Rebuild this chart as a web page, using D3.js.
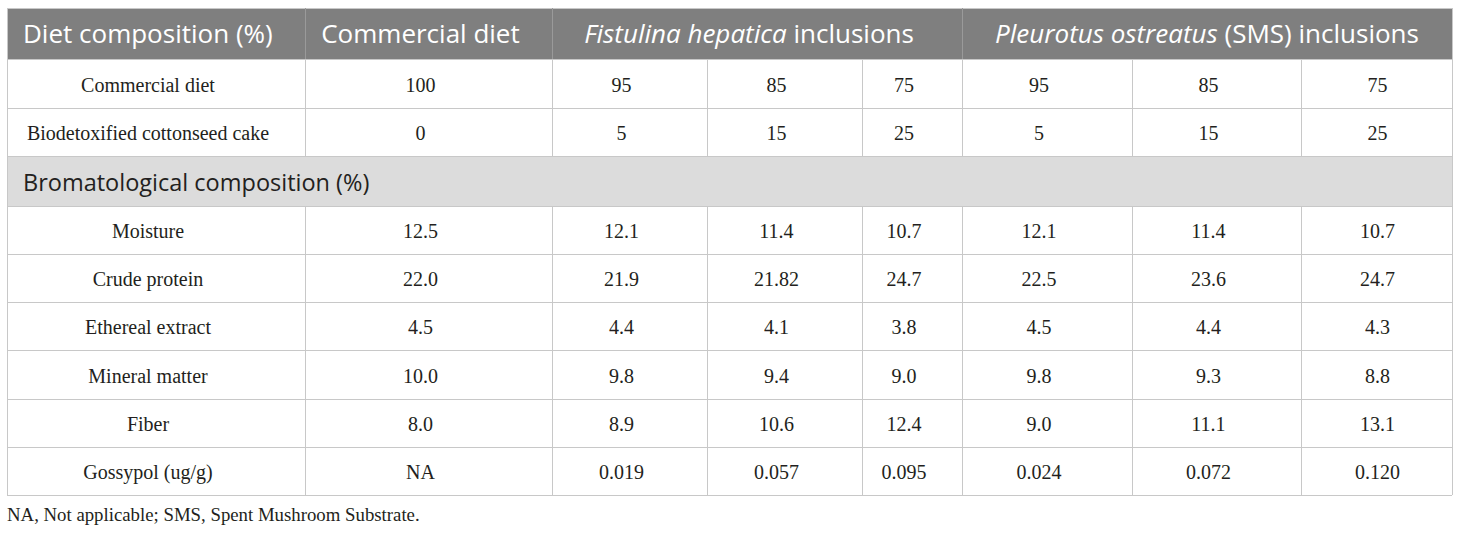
<!DOCTYPE html>
<html><head><meta charset="utf-8">
<script src="https://cdn.jsdelivr.net/npm/d3@7/dist/d3.min.js"></script>
<style>body{margin:0;background:#fff}svg{display:block}</style>
</head><body>
<script>
// ---- data ----
const headerLabels = [
  [{t:"Diet composition (%)",i:false}],
  [{t:"Commercial diet",i:false}],
  [{t:"Fistulina hepatica",i:true},{t:" inclusions",i:false}],
  [{t:"Pleurotus ostreatus",i:true},{t:" (SMS) inclusions",i:false}]
];
const headerSpans = [1,1,3,3];
const dietRows = ["Commercial diet","Biodetoxified cottonseed cake"];
const dietValues = [
  ["100","95","85","75","95","85","75"],
  ["0","5","15","25","5","15","25"]
];
const sectionLabel = "Bromatological composition (%)";
const bromRows = ["Moisture","Crude protein","Ethereal extract","Mineral matter","Fiber","Gossypol (ug/g)"];
const bromValues = [
  ["12.5","12.1","11.4","10.7","12.1","11.4","10.7"],
  ["22.0","21.9","21.82","24.7","22.5","23.6","24.7"],
  ["4.5","4.4","4.1","3.8","4.5","4.4","4.3"],
  ["10.0","9.8","9.4","9.0","9.8","9.3","8.8"],
  ["8.0","8.9","10.6","12.4","9.0","11.1","13.1"],
  ["NA","0.019","0.057","0.095","0.024","0.072","0.120"]
];
const footnote = "NA, Not applicable; SMS, Spent Mushroom Substrate.";

// ---- layout ----
const W = 1460, H = 533;
const colEdges = [7, 305, 552, 707, 862, 962, 1132, 1301, 1452];
const rowEdges = [8, 59, 108, 156, 206, 254, 302, 350, 399, 447, 495];
const lineColor = "#c8c8c8";
const headBg = "#7f7f7f", secBg = "#dcdcdc";
const sans = "'Open Sans', sans-serif", serif = "'Liberation Serif', 'Times New Roman', serif";
// horizontal text offset of each column's content relative to its geometric centre
const colShift = ci => (ci === 7 ? 1 : -8);

const svg = d3.select("body").append("svg").attr("width", W).attr("height", H);

const rowY = i => rowEdges[i], rowH = i => rowEdges[i+1]-rowEdges[i];
const tableL = colEdges[0], tableR = colEdges[colEdges.length-1];

// backgrounds
svg.append("rect").attr("x",tableL).attr("y",rowY(0)).attr("width",tableR-tableL).attr("height",rowH(0)).attr("fill",headBg);
svg.append("rect").attr("x",tableL).attr("y",rowY(3)).attr("width",tableR-tableL).attr("height",rowH(3)).attr("fill",secBg);

// horizontal lines
svg.append("g").selectAll("line").data(rowEdges).join("line")
  .attr("x1",tableL).attr("x2",tableR).attr("y1",d=>d+0.5).attr("y2",d=>d+0.5)
  .attr("stroke",lineColor).attr("stroke-width",1);

// vertical lines
let hStarts=[0]; headerSpans.forEach((s,i)=>hStarts.push(hStarts[i]+s));
const vSegs = [];
hStarts.forEach(ci=>vSegs.push({x:colEdges[ci], y1:rowY(0), y2:rowY(1), c: (ci===0||ci===8)?lineColor:"#9a9a9a"}));
[1,2,4,5,6,7,8,9].forEach(r=>{
  colEdges.forEach((x,ci)=>vSegs.push({x, y1:rowY(r), y2:rowY(r+1), c:lineColor}));
});
[0,8].forEach(ci=>vSegs.push({x:colEdges[ci], y1:rowY(3), y2:rowY(4), c:lineColor}));
svg.append("g").selectAll("line").data(vSegs).join("line")
  .attr("x1",d=>d.x+0.5).attr("x2",d=>d.x+0.5).attr("y1",d=>d.y1).attr("y2",d=>d.y2)
  .attr("stroke",d=>d.c).attr("stroke-width",1);

// header text
headerLabels.forEach((parts,i)=>{
  const x0 = colEdges[hStarts[i]], x1 = colEdges[hStarts[i+1]];
  const shift = i===3 ? 0 : -8;
  const t = svg.append("text")
    .attr("x", i===0 ? x0+16 : (x0+x1)/2 + shift)
    .attr("y", rowY(0)+rowH(0)/2)
    .attr("dy","0.35em")
    .attr("text-anchor", i===0?"start":"middle")
    .attr("font-family",sans).attr("font-size",26).attr("fill","#fff");
  t.selectAll("tspan").data(parts).join("tspan")
    .attr("font-style",d=>d.i?"italic":"normal").text(d=>d.t);
});

// body rows
function bodyRow(r, label, vals){
  const cy = rowY(r)+rowH(r)/2;
  const g = svg.append("g").attr("font-family",serif).attr("font-size",20).attr("fill","#231f20");
  g.append("text").attr("x",(colEdges[0]+colEdges[1])/2 + colShift(0)).attr("y",cy).attr("dy","0.41em")
    .attr("text-anchor","middle").text(label);
  g.selectAll("text.v").data(vals).join("text").attr("class","v")
    .attr("x",(d,i)=>(colEdges[i+1]+colEdges[i+2])/2 + colShift(i+1)).attr("y",cy).attr("dy","0.41em")
    .attr("text-anchor","middle").text(d=>d);
}
dietRows.forEach((l,i)=>bodyRow(1+i,l,dietValues[i]));
bromRows.forEach((l,i)=>bodyRow(4+i,l,bromValues[i]));

// section label
svg.append("text").attr("x",tableL+16).attr("y",rowY(3)+rowH(3)/2+2).attr("dy","0.35em")
  .attr("font-family",sans).attr("font-size",23.5).attr("fill","#231f20").text(sectionLabel);

// footnote
svg.append("text").attr("x",tableL).attr("y",521)
  .attr("font-family",serif).attr("font-size",18.8).attr("fill","#231f20").text(footnote);
</script>
</body></html>
